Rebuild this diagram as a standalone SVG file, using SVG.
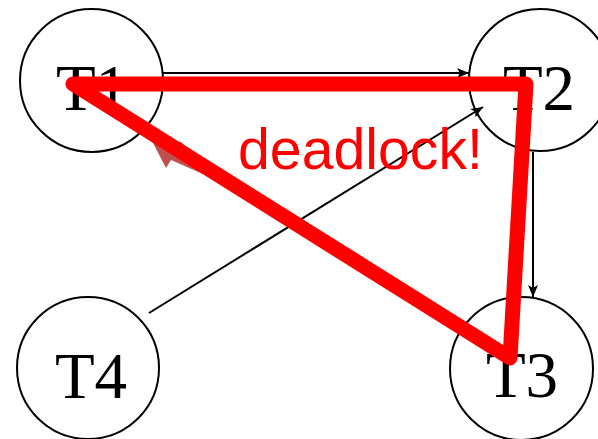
<svg xmlns="http://www.w3.org/2000/svg" width="598" height="439" viewBox="0 0 598 439">
<style>
.node circle{fill:#fff;stroke:#000;stroke-width:2}
.node text{font-family:"Liberation Serif","Times New Roman",serif;font-size:65px;fill:#000;text-anchor:middle}
.conn{stroke:#000;stroke-width:2;fill:none;marker-end:url(#ah)}
</style>
<defs>
<marker id="ah" viewBox="0 0 12 10" refX="12" refY="5" markerWidth="12" markerHeight="10" markerUnits="userSpaceOnUse" orient="auto">
<path d="M0,0 L12,5 L0,10 L3,5 Z" fill="#000"/>
</marker>
</defs>
<rect width="598" height="439" fill="#fff"/>
<g id="T1" class="node"><circle cx="91.5" cy="80.5" r="71.5"/><text x="92" y="110">T1</text></g>
<g id="T2" class="node"><circle cx="540" cy="80" r="71"/><text x="539" y="110">T2</text></g>
<g id="T3" class="node"><circle cx="521.5" cy="368.5" r="71.5"/><text x="522" y="397">T3</text></g>
<g id="T4" class="node"><circle cx="88" cy="368" r="71"/><text x="91" y="398">T4</text></g>
<g id="connectors">
<line class="conn" x1="163" y1="73" x2="469" y2="73"/>
<line class="conn" x1="149" y1="313" x2="483" y2="107"/>
<line class="conn" x1="533" y1="152" x2="533" y2="297"/>
</g>
<g id="deadlock-cycle">
<path d="M152,141 L181,142 L200,160 L212,178 L171,160 L166,168 Z" fill="#c0504d"/>
<polygon points="73,84 526,84 510,358" fill="none" stroke="#ff0000" stroke-width="15" stroke-linejoin="round" stroke-linecap="round"/>
<text x="238" y="169" font-family="'Liberation Sans',Arial,sans-serif" font-size="58" fill="#ff0000" textLength="245" lengthAdjust="spacingAndGlyphs">deadlock!</text>
</g>
</svg>
